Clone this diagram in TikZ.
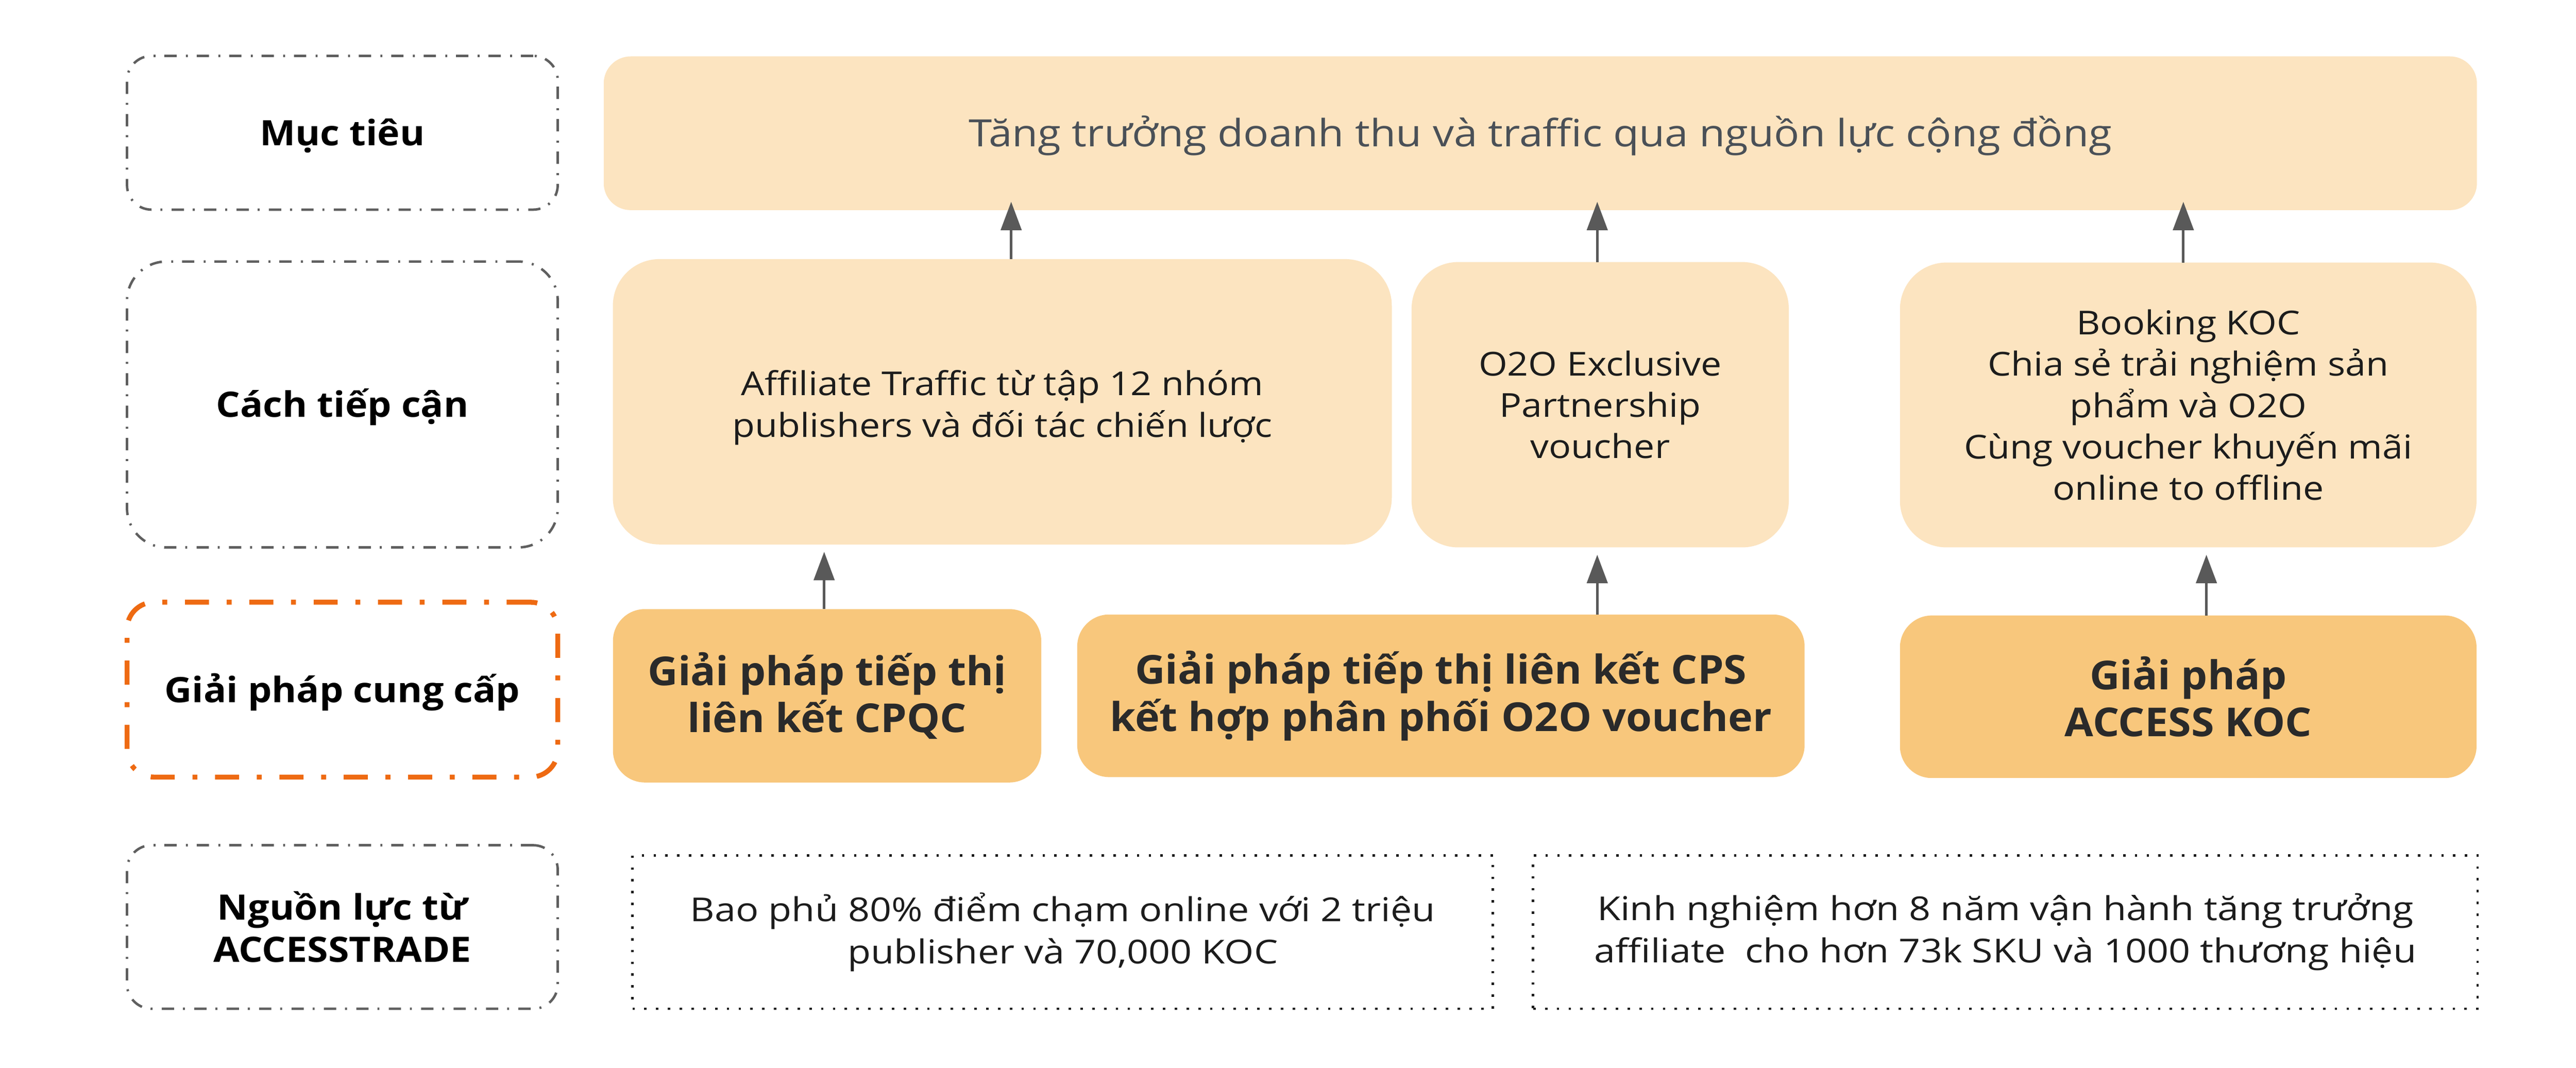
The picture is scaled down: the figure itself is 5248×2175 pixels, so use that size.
\documentclass[tikz,border=0pt]{standalone}
\usepackage{fontspec}
\setmainfont{Open Sans}
\newfontfamily\regf{Open Sans}[FakeStretch=1.12]
\newfontfamily\resf{Open Sans}[FakeStretch=1.15]
\newfontfamily\solf{Open Sans}[FakeStretch=1.045]
\newfontfamily\labf{Open Sans}[FakeStretch=1.08]
\usetikzlibrary{arrows.meta}
\definecolor{lightfill}{HTML}{FCE4C0}
\definecolor{solfill}{HTML}{F8C77C}
\definecolor{dashgray}{HTML}{5F5F5F}
\definecolor{orangeln}{HTML}{EE6A12}
\definecolor{goaltxt}{HTML}{4A5057}
\definecolor{arrowgray}{HTML}{595959}
\definecolor{soltxt}{HTML}{2A2A2A}
\definecolor{bodytxt}{HTML}{1C1C1C}
\begin{document}
\begin{tikzpicture}[x=0.01cm,y=-0.01cm,
  every node/.style={inner sep=0pt, outer sep=0pt, align=center},
  labelbox/.style={draw=dashgray, line width=0.05cm,
    dash pattern=on 0.25cm off 0.18cm on 0.04cm off 0.19cm,
    font=\labf\bfseries\fontsize{20.3}{24.5}\selectfont, text=black},
  capcenter/.style={text height=14.6pt, text depth=0pt},
  keybox/.style={draw=orangeln, line width=0.10cm, rounded corners=0.55cm,
    dash pattern=on 0.49cm off 0.36cm on 0.10cm off 0.36cm,
    font=\labf\bfseries\fontsize{20.3}{24.5}\selectfont, text=black},
  goalbox/.style={fill=lightfill, rounded corners=0.55cm,
    font=\regf\fontsize{21.8}{26}\selectfont, text=goaltxt,
    text height=15.6pt, text depth=0pt},
  appbox/.style={fill=lightfill, rounded corners=0.95cm,
    font=\regf\fontsize{19.1}{24}\selectfont, text=bodytxt},
  apptext/.style={font=\regf\fontsize{19.1}{24}\selectfont, text=bodytxt},
  solbox/.style={fill=solfill, rounded corners=0.65cm,
    font=\solf\bfseries\fontsize{23.1}{27.3}\selectfont, text=soltxt},
  resbox/.style={draw=black!90, line width=0.05cm,
    dash pattern=on 0.05cm off 0.19cm,
    font=\resf\fontsize{19.1}{24.5}\selectfont, text=bodytxt},
  arr/.style={draw=arrowgray, line width=0.05cm,
    -{Triangle[length=0.58cm,width=0.42cm]}}
]
\useasboundingbox[fill=white] (0,0) rectangle (5248,2175);

% left labels
\node[labelbox, capcenter, rounded corners=0.5cm, minimum width=8.77cm, minimum height=3.13cm] (l1) at (697.5,270.5) {Mục tiêu};
\node[labelbox, capcenter, rounded corners=0.8cm, minimum width=8.77cm, minimum height=5.82cm] (l2) at (697.5,824) {Cách tiếp cận};
\node[keybox, capcenter, minimum width=8.77cm, minimum height=3.56cm] (l3) at (697.5,1405) {Giải pháp cung cấp};
\node[labelbox, rounded corners=0.5cm, minimum width=8.77cm, minimum height=3.33cm] (l4) at (697.5,1888.5) {Nguồn lực từ\\ACCESSTRADE};

% goal
\node[goalbox, minimum width=38.14cm, minimum height=3.13cm] (g) at (3138,271.5) {Tăng trưởng doanh thu và traffic qua nguồn lực cộng đồng};

% approaches
\node[appbox, minimum width=15.86cm, minimum height=5.81cm] (a1) at (2042,818.5) {};
\node[apptext] (a1t) at ([yshift=-0.12cm]a1.center) {Affiliate Traffic từ tập 12 nhóm\\publishers và đối tác chiến lược};
\node[appbox, minimum width=7.68cm, minimum height=5.81cm] (a2) at (3260,824.5) {O2O Exclusive\\Partnership\\voucher};
\node[appbox, minimum width=11.74cm, minimum height=5.80cm] (a3) at (4458,825) {Booking KOC\\Chia sẻ trải nghiệm sản\\phẩm và O2O\\Cùng voucher khuyến mãi\\online to offline};

% solutions
\node[solbox, minimum width=8.72cm, minimum height=3.53cm] (s1) at (1685,1417.5) {Giải pháp tiếp thị\\liên kết CPQC};
\node[solbox, minimum width=14.81cm, minimum height=3.31cm] (s2) at (2935.5,1417.5) {Giải pháp tiếp thị liên kết CPS\\kết hợp phân phối O2O voucher};
\node[solbox, minimum width=11.74cm, minimum height=3.31cm] (s3) at (4458,1419.5) {Giải pháp\\ACCESS KOC};

% resources
\node[resbox, minimum width=17.52cm, minimum height=3.12cm] (r1) at (2165,1899) {Bao phủ 80\% điểm chạm online với 2 triệu\\publisher và 70,000 KOC};
\node[resbox, minimum width=19.23cm, minimum height=3.12cm] (r2) at (4085.5,1899) {Kinh nghiệm hơn 8 năm vận hành tăng trưởng\\affiliate\ \ cho hơn 73k SKU và 1000 thương hiệu};

% arrow columns
\coordinate (c1) at (1679,0);
\coordinate (c2) at (2060,0);
\coordinate (c3) at (3254,0);
\coordinate (c5) at (4495,0);
\coordinate (c6) at (4448,0);

\draw[arr, shorten >=0.15cm] (s1.north -| c1) -- (a1.south -| c1);
\draw[arr, shorten >=-0.17cm] (a1.north -| c2) -- (g.south -| c2);
\draw[arr, shorten >=0.15cm] (s2.north -| c3) -- (a2.south -| c3);
\draw[arr, shorten >=-0.17cm] (a2.north -| c3) -- (g.south -| c3);
\draw[arr, shorten >=0.15cm] (s3.north -| c5) -- (a3.south -| c5);
\draw[arr, shorten >=-0.17cm] (a3.north -| c6) -- (g.south -| c6);
\end{tikzpicture}
\end{document}
